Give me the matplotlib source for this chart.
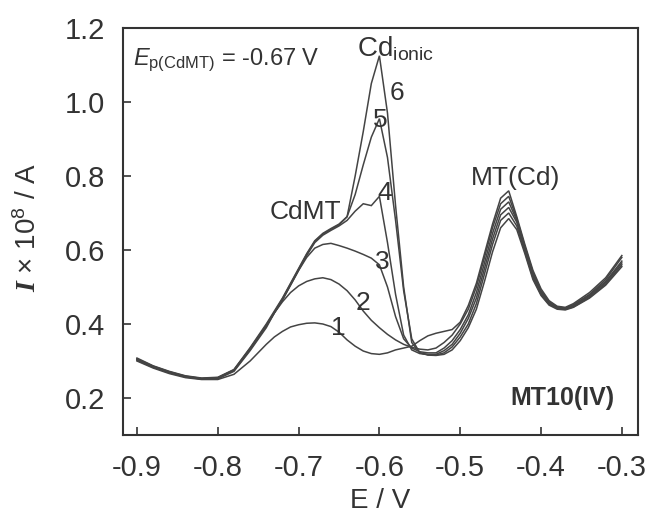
import matplotlib
matplotlib.use("Agg")
import matplotlib.pyplot as plt
from matplotlib import font_manager

# ---------------- data ----------------
potential = [-0.90, -0.88, -0.86, -0.84, -0.82, -0.80, -0.78, -0.76,
             -0.74, -0.73, -0.72, -0.71, -0.70, -0.69, -0.68, -0.67, -0.66, -0.65, -0.64,
             -0.63, -0.62, -0.61, -0.60, -0.59, -0.58, -0.57, -0.56, -0.55, -0.54,
             -0.53, -0.52, -0.51, -0.50, -0.49, -0.48, -0.47, -0.46, -0.45, -0.44,
             -0.43, -0.42, -0.41, -0.40, -0.39, -0.38, -0.37, -0.36, -0.34, -0.32, -0.30]

curve1 = [0.300, 0.281, 0.266, 0.255, 0.250, 0.250, 0.264, 0.300,
          0.345, 0.365, 0.380, 0.392, 0.398, 0.402, 0.403, 0.400, 0.393, 0.378, 0.357,
          0.340, 0.327, 0.320, 0.318, 0.322, 0.330, 0.335, 0.340, 0.355, 0.368,
          0.375, 0.380, 0.385, 0.405, 0.450, 0.510, 0.590, 0.670, 0.740, 0.760,
          0.690, 0.615, 0.545, 0.495, 0.463, 0.448, 0.445, 0.455, 0.485, 0.525, 0.585]

curve2 = [0.302, 0.283, 0.268, 0.257, 0.251, 0.252, 0.272, 0.328,
          0.390, 0.430, 0.460, 0.485, 0.503, 0.515, 0.522, 0.525, 0.520, 0.508, 0.490,
          0.465, 0.435, 0.410, 0.390, 0.372, 0.357, 0.345, 0.337, 0.332, 0.330,
          0.335, 0.350, 0.370, 0.400, 0.440, 0.500, 0.580, 0.660, 0.725, 0.745,
          0.685, 0.610, 0.540, 0.490, 0.460, 0.446, 0.443, 0.452, 0.480, 0.520, 0.580]

curve3 = [0.304, 0.284, 0.269, 0.258, 0.252, 0.253, 0.274, 0.331,
          0.395, 0.430, 0.465, 0.505, 0.545, 0.580, 0.605, 0.615, 0.618, 0.612, 0.605,
          0.597, 0.588, 0.578, 0.560, 0.500, 0.420, 0.360, 0.335, 0.325, 0.322,
          0.322, 0.335, 0.355, 0.385, 0.425, 0.485, 0.565, 0.645, 0.710, 0.730,
          0.680, 0.605, 0.535, 0.487, 0.458, 0.445, 0.442, 0.450, 0.478, 0.515, 0.570]

curve4 = [0.305, 0.285, 0.270, 0.258, 0.252, 0.254, 0.275, 0.333,
          0.395, 0.430, 0.465, 0.505, 0.545, 0.585, 0.620, 0.640, 0.653, 0.665, 0.680,
          0.705, 0.725, 0.720, 0.745, 0.620, 0.480, 0.370, 0.330, 0.320, 0.318,
          0.318, 0.328, 0.345, 0.375, 0.415, 0.470, 0.550, 0.630, 0.695, 0.715,
          0.675, 0.600, 0.530, 0.483, 0.455, 0.443, 0.440, 0.448, 0.475, 0.512, 0.565]

curve5 = [0.306, 0.286, 0.271, 0.259, 0.253, 0.255, 0.276, 0.334,
          0.397, 0.432, 0.468, 0.508, 0.548, 0.588, 0.623, 0.643, 0.656, 0.668, 0.690,
          0.750, 0.830, 0.905, 0.955, 0.850, 0.680, 0.490, 0.360, 0.322, 0.317,
          0.316, 0.322, 0.338, 0.365, 0.400, 0.455, 0.535, 0.615, 0.680, 0.700,
          0.665, 0.595, 0.525, 0.480, 0.453, 0.442, 0.440, 0.446, 0.472, 0.508, 0.560]

curve6 = [0.308, 0.287, 0.272, 0.260, 0.254, 0.256, 0.277, 0.336,
          0.400, 0.435, 0.470, 0.510, 0.550, 0.590, 0.625, 0.645, 0.658, 0.670, 0.690,
          0.800, 0.920, 1.050, 1.125, 0.970, 0.720, 0.500, 0.350, 0.322, 0.316,
          0.315, 0.318, 0.330, 0.355, 0.390, 0.440, 0.515, 0.595, 0.660, 0.685,
          0.655, 0.590, 0.520, 0.477, 0.451, 0.440, 0.438, 0.445, 0.470, 0.505, 0.555]

curves = [curve1, curve2, curve3, curve4, curve5, curve6]
curve_labels = ["1", "2", "3", "4", "5", "6"]
label_pos = [(-0.651, 0.389), (-0.620, 0.457), (-0.596, 0.568),
             (-0.593, 0.754), (-0.599, 0.951), (-0.578, 1.024)]

x_ticks = [-0.9, -0.8, -0.7, -0.6, -0.5, -0.4, -0.3]
x_ticklabels = ["-0.9", "-0.8", "-0.7", "-0.6", "-0.5", "-0.4", "-0.3"]
y_ticks = [0.2, 0.4, 0.6, 0.8, 1.0, 1.2]
y_ticklabels = ["0.2", "0.4", "0.6", "0.8", "1.0", "1.2"]

# ---------------- style ----------------
avail = {f.name for f in font_manager.fontManager.ttflist}
SANS = "Liberation Sans" if "Liberation Sans" in avail else "DejaVu Sans"
NARROW = "Liberation Sans Narrow" if "Liberation Sans Narrow" in avail else SANS

plt.rcParams["font.family"] = [SANS, "DejaVu Sans"]
plt.rcParams["mathtext.fontset"] = "custom"
plt.rcParams["mathtext.rm"] = SANS
plt.rcParams["mathtext.it"] = SANS + ":italic"
plt.rcParams["mathtext.bf"] = "Liberation Serif:italic:bold"

TXT = "#333333"
LINE = "#444444"

fig = plt.figure(figsize=(6.51, 5.21), dpi=100)
fig.patch.set_facecolor("white")
ax = fig.add_axes([123 / 651, 1 - 435 / 521, (638 - 123) / 651, (435 - 28) / 521])

for ys in curves:
    ax.plot(potential, ys, color=LINE, lw=1.1, solid_joinstyle="miter")

ax.set_xlim(-0.9173, -0.28)
ax.set_ylim(0.1, 1.2)
ax.set_xticks(x_ticks)
ax.set_xticklabels(x_ticklabels)
ax.set_yticks(y_ticks)
ax.set_yticklabels(y_ticklabels)
ax.tick_params(axis="both", direction="in", length=6, width=1.2, color=TXT,
               labelsize=21, labelcolor=TXT, top=False, right=False)
ax.tick_params(axis="x", pad=14)
ax.tick_params(axis="y", pad=13)
for sp in ax.spines.values():
    sp.set_color(TXT)
    sp.set_linewidth(1.5)

ax.set_xlabel("E / V", fontsize=20, color=TXT, labelpad=4)
fig.text(28 / 651, 1 - 228 / 521, r"$\mathbf{I}$ × 10$^{8}$ / A", rotation=90,
         ha="center", va="center", fontsize=20, color=TXT)

for lab, (lx, ly) in zip(curve_labels, label_pos):
    ax.text(lx, ly, lab, fontsize=19, color=TXT, ha="center", va="center")

ax.text(-0.905, 1.10, r"$E_{\mathrm{p(CdMT)}}$ = -0.67 V", fontsize=17, color=TXT,
        ha="left", va="baseline")
ax.text(-0.628, 1.122, r"Cd$_{\mathrm{ionic}}$", fontsize=20, color=TXT,
        ha="left", va="baseline")
ax.text(-0.692, 0.703, "CdMT", fontsize=19, color=TXT, ha="center", va="center")
ax.text(-0.431, 0.795, "MT(Cd)", fontsize=19, color=TXT, ha="center", va="center")
ax.text(-0.373, 0.2, "MT10(IV)", fontsize=18, fontweight="bold", family=NARROW,
        color=TXT, ha="center", va="center")

fig.savefig("out.png", dpi=100)
